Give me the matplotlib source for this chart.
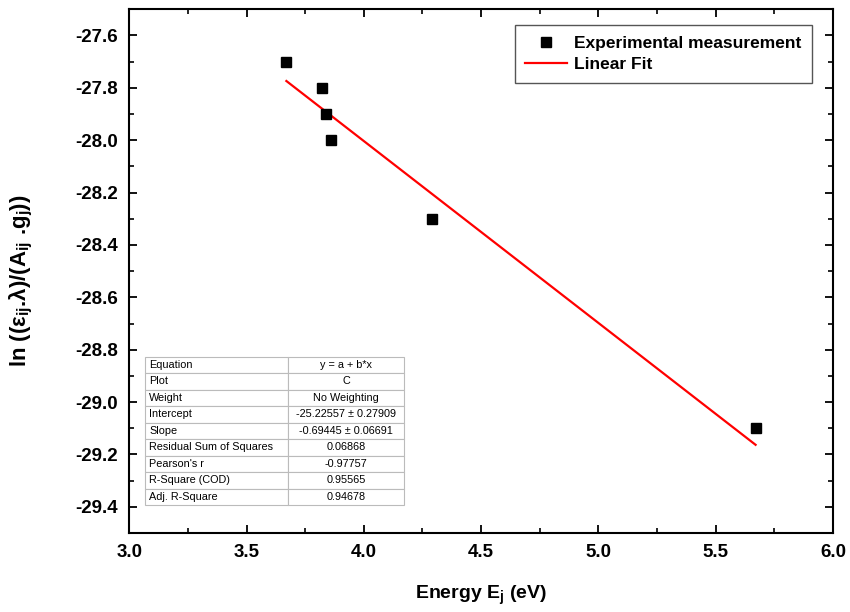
import matplotlib
matplotlib.use("Agg")
import matplotlib.pyplot as plt
import numpy as np

plt.rcParams['font.family'] = ['Liberation Sans', 'DejaVu Sans']
plt.rcParams['mathtext.fontset'] = 'custom'
plt.rcParams['mathtext.rm'] = 'Liberation Sans:bold'
plt.rcParams['mathtext.bf'] = 'Liberation Sans:bold'
plt.rcParams['mathtext.it'] = 'Liberation Sans:bold'
plt.rcParams['mathtext.default'] = 'bf'

# Data
energy = [3.67, 3.82, 3.84, 3.86, 4.29, 5.67]
ln_vals = [-27.70, -27.80, -27.90, -28.00, -28.30, -29.10]
intercept = -25.22557
slope = -0.69445

table_labels = ["Equation", "Plot", "Weight", "Intercept", "Slope",
                "Residual Sum of Squares", "Pearson's r", "R-Square (COD)",
                "Adj. R-Square"]
table_values = ["y = a + b*x", "C", "No Weighting", "-25.22557 \u00b1 0.27909",
                "-0.69445 \u00b1 0.06691", "0.06868", "-0.97757", "0.95565",
                "0.94678"]

x_ticks = [3.0, 3.5, 4.0, 4.5, 5.0, 5.5, 6.0]
y_ticks = [-29.4, -29.2, -29.0, -28.8, -28.6, -28.4, -28.2, -28.0, -27.8, -27.6]

fig = plt.figure(figsize=(8.5, 6.12), dpi=100)
ax = fig.add_axes([0.152, 0.129, 0.828, 0.856])

ax.plot(energy, ln_vals, linestyle='none', marker='s', markersize=7,
        color='black', label='Experimental measurement', zorder=3)
xfit = np.array([min(energy), max(energy)])
ax.plot(xfit, intercept + slope * xfit, color='red', lw=1.6, label='Linear Fit', zorder=2)

ax.set_xlim(3.0, 6.0)
ax.set_ylim(-29.5, -27.5)
ax.set_xticks(x_ticks)
ax.set_yticks(y_ticks)
ax.set_xticks(np.arange(3.25, 6.0, 0.5), minor=True)
ax.set_yticks(np.arange(-29.5, -27.45, 0.1), minor=True)
ax.set_xticklabels([f"{v:.1f}" for v in x_ticks], fontsize=13.5, fontweight='bold')
ax.set_yticklabels([f"{v:.1f}" for v in y_ticks], fontsize=13.5, fontweight='bold')
ax.tick_params(which='major', direction='in', length=6, width=1.3, top=True, right=True, pad=8)
ax.tick_params(which='minor', direction='in', length=3.5, width=1.2, top=True, right=True)
for s in ax.spines.values():
    s.set_linewidth(1.5)

ax.set_xlabel(r'Energy E$_\mathbf{j}$ (eV)', fontsize=14, fontweight='bold', labelpad=16)
ax.set_ylabel(r'ln ((ε$_\mathbf{ij}$.λ)/(A$_\mathbf{ij}$ .g$_\mathbf{j}$))',
              fontsize=16, fontweight='bold', labelpad=29)
ax.yaxis.label.set_y(0.481)

leg = ax.legend(loc='upper right', bbox_to_anchor=(0.970, 0.969),
                prop={'weight': 'bold', 'size': 12.5}, fancybox=False,
                edgecolor='#555555', framealpha=1, borderpad=0.6,
                borderaxespad=0.0, handlelength=2.4, handletextpad=0.4,
                labelspacing=0.35)
leg.get_frame().set_linewidth(1.0)

cells = [[a, b] for a, b in zip(table_labels, table_values)]
tb = ax.table(cellText=cells, bbox=[0.0227, 0.053, 0.368, 0.284],
              colWidths=[0.55, 0.45], cellLoc='left')
tb.auto_set_font_size(False)
tb.set_fontsize(7.8)
for (r, c), cell in tb.get_celld().items():
    cell.set_edgecolor('#bbbbbb')
    cell.set_linewidth(0.8)
    cell.set_facecolor('white')
    if c == 1:
        cell.get_text().set_horizontalalignment('center')
        cell._loc = 'center'
    else:
        cell.PAD = 0.03

fig.savefig('out.png', dpi=100)
